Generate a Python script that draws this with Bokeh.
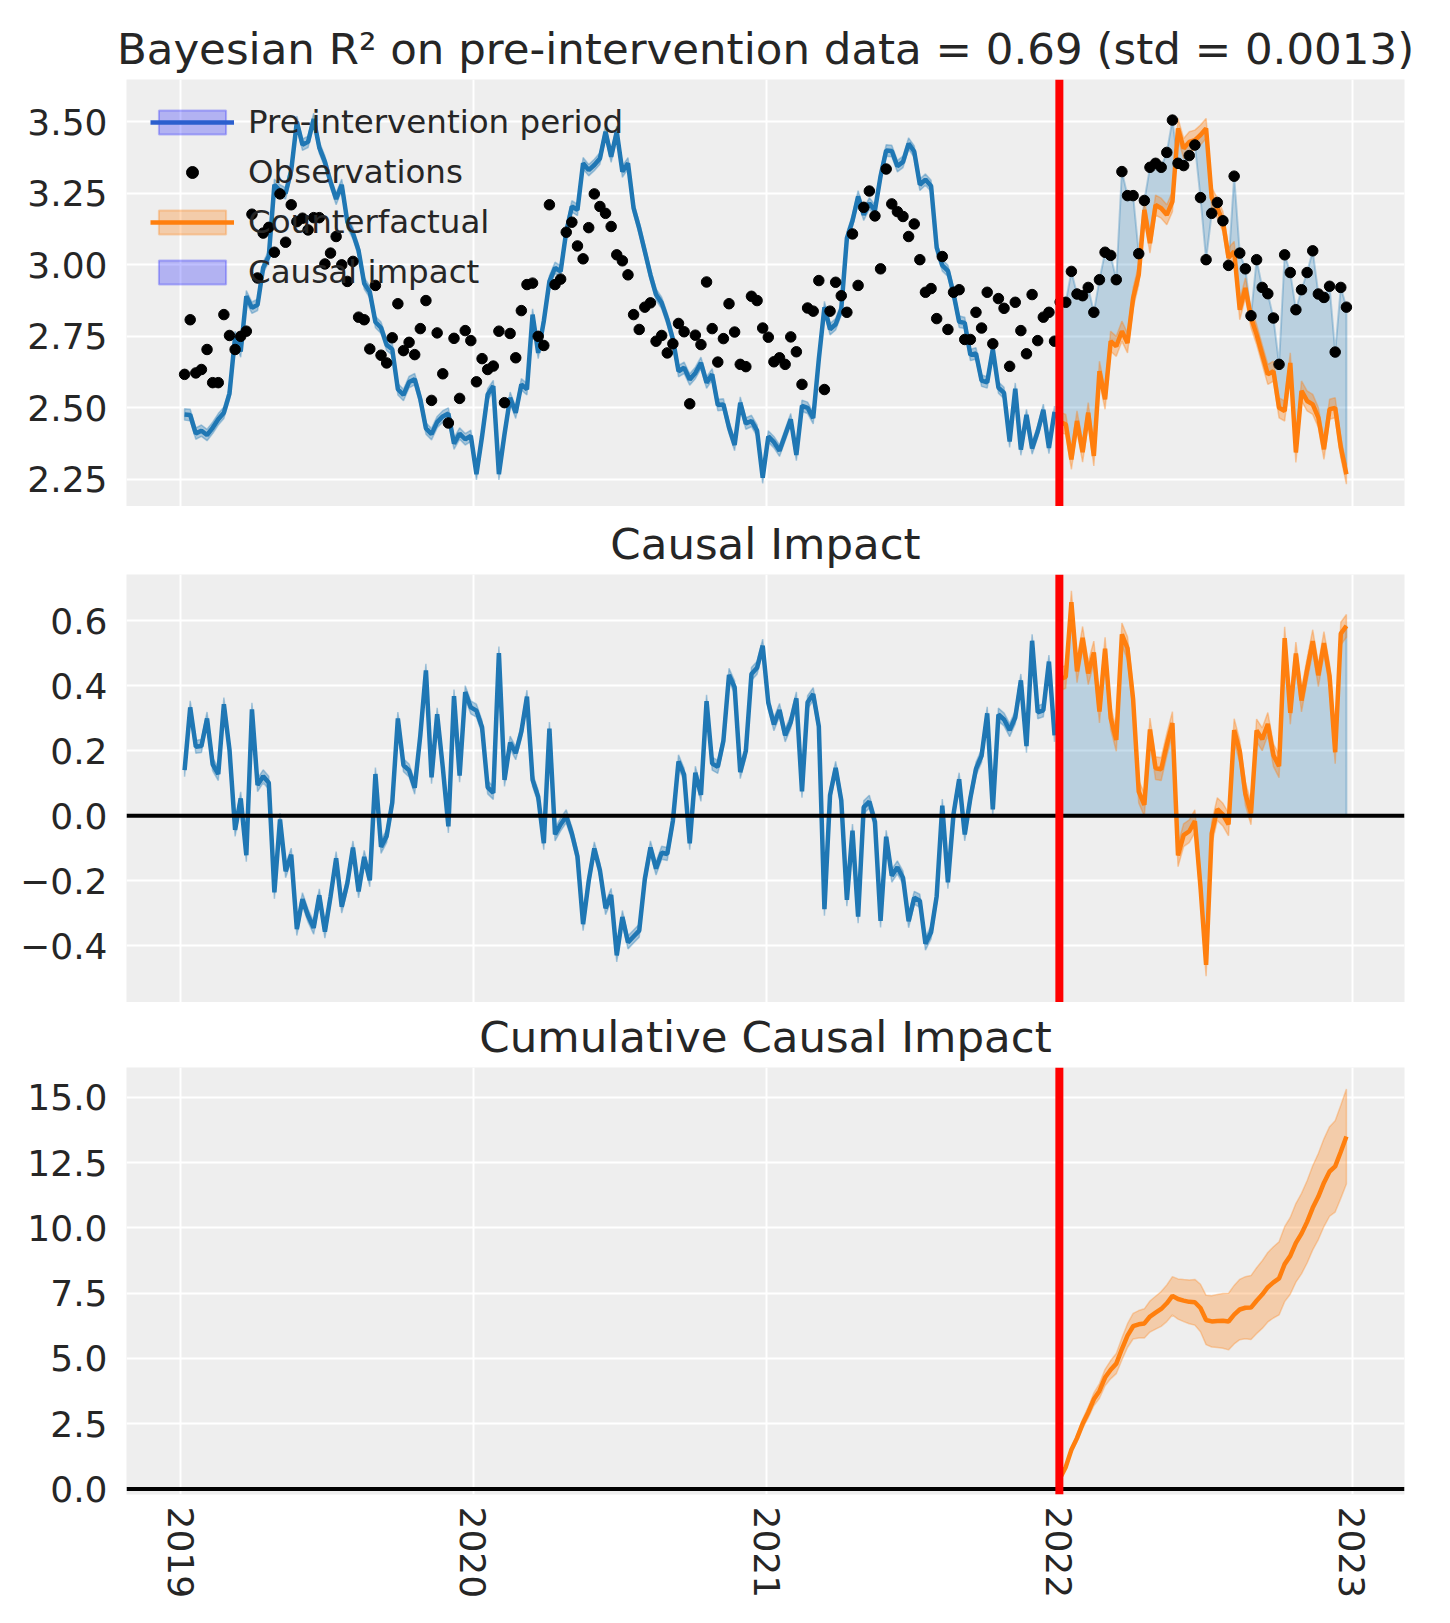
import math
import pandas as pd
from bokeh.plotting import figure
from bokeh.layouts import column
from bokeh.models import (Range1d, FixedTicker, CustomJSTickFormatter, Span,
                          Legend, LegendItem)
from bokeh.embed import file_html
from bokeh.resources import INLINE

# ---------------- data ----------------
START_DATE = "2019-01-06"
N_WEEKS = 208
INTERVENTION = "2022-01-01"

observed = [
    2.617, 2.808, 2.622, 2.634, 2.704, 2.588, 2.588, 2.826, 2.753, 2.704,
    2.750, 2.768, 3.177, 2.954, 3.111, 3.131, 3.044, 3.248, 3.079, 3.210,
    3.151, 3.163, 3.122, 3.165, 3.165, 3.003, 3.041, 3.099, 3.000, 2.942,
    3.012, 2.817, 2.808, 2.706, 2.928, 2.684, 2.657, 2.745, 2.864, 2.700,
    2.729, 2.686, 2.777, 2.875, 2.526, 2.762, 2.619, 2.447, 2.743, 2.533,
    2.770, 2.735, 2.591, 2.672, 2.634, 2.646, 2.768, 2.518, 2.760, 2.675,
    2.840, 2.931, 2.936, 2.750, 2.718, 3.210, 2.931, 2.950, 3.114, 3.149,
    3.066, 3.021, 3.130, 3.248, 3.204, 3.180, 3.134, 3.035, 3.014, 2.965,
    2.826, 2.774, 2.852, 2.867, 2.733, 2.753, 2.692, 2.724, 2.795, 2.766,
    2.514, 2.754, 2.721, 2.940, 2.777, 2.660, 2.742, 2.864, 2.765, 2.652,
    2.644, 2.890, 2.875, 2.779, 2.747, 2.661, 2.675, 2.652, 2.748, 2.696,
    2.582, 2.849, 2.838, 2.945, 2.564, 2.838, 2.939, 2.892, 2.834, 3.108,
    2.928, 3.201, 3.258, 3.171, 2.986, 3.335, 3.213, 3.186, 3.169, 3.099,
    3.143, 3.018, 2.904, 2.917, 2.812, 3.029, 2.774, 2.904, 2.913, 2.739,
    2.739, 2.834, 2.779, 2.904, 2.724, 2.882, 2.848, 2.645, 2.869, 2.770,
    2.689, 2.896, 2.735, 2.817, 2.834, 2.733, 2.870, 2.869, 2.977, 2.898,
    2.892, 2.921, 2.834, 2.948, 3.044, 3.033, 2.948, 3.326, 3.242, 3.242,
    3.039, 3.225, 3.341, 3.355, 3.341, 3.393, 3.506, 3.355, 3.347, 3.382,
    3.419, 3.235, 3.018, 3.180, 3.218, 3.154, 2.998, 3.310, 3.041, 2.986,
    2.822, 3.018, 2.921, 2.899, 2.814, 2.652, 3.035, 2.973, 2.843, 2.913,
    2.973, 3.049, 2.898, 2.886, 2.925, 2.695, 2.921, 2.852,
]

predicted = [
    2.477, 2.475, 2.410, 2.420, 2.405, 2.430, 2.460, 2.483, 2.550, 2.748,
    2.697, 2.890, 2.850, 2.860, 2.990, 3.030, 3.280, 3.260, 3.250, 3.330,
    3.500, 3.420, 3.430, 3.510, 3.410, 3.360, 3.290, 3.230, 3.280, 3.150,
    3.110, 3.050, 2.935, 2.905, 2.800, 2.780, 2.720, 2.705, 2.565, 2.545,
    2.590, 2.600, 2.530, 2.428, 2.408, 2.450, 2.470, 2.480, 2.375, 2.410,
    2.390, 2.402, 2.268, 2.400, 2.547, 2.576, 2.268, 2.408, 2.535, 2.483,
    2.582, 2.565, 2.826, 2.692, 2.803, 2.942, 2.989, 2.977, 3.116, 3.204,
    3.192, 3.355, 3.331, 3.349, 3.372, 3.465, 3.378, 3.465, 3.326, 3.355,
    3.198, 3.128, 3.047, 2.965, 2.896, 2.867, 2.810, 2.740, 2.628, 2.640,
    2.599, 2.622, 2.657, 2.588, 2.617, 2.510, 2.512, 2.431, 2.370, 2.518,
    2.445, 2.454, 2.420, 2.256, 2.400, 2.380, 2.350, 2.405, 2.460, 2.335,
    2.507, 2.500, 2.464, 2.670, 2.852, 2.775, 2.792, 2.845, 3.093, 3.154,
    3.239, 3.175, 3.215, 3.190, 3.310, 3.400, 3.398, 3.345, 3.360, 3.424,
    3.396, 3.280, 3.298, 3.276, 3.060, 2.998, 2.979, 2.899, 2.801, 2.797,
    2.685, 2.690, 2.595, 2.589, 2.705, 2.571, 2.552, 2.382, 2.567, 2.354,
    2.475, 2.358, 2.417, 2.493, 2.360, 2.486, 2.450, 2.442, 2.320, 2.454,
    2.345, 2.483, 2.332, 2.628, 2.530, 2.733, 2.715, 2.768, 2.727, 2.884,
    2.965, 3.192, 3.076, 3.209, 3.198, 3.175, 3.221, 3.477, 3.407, 3.430,
    3.436, 3.454, 3.477, 3.235, 3.198, 3.151, 3.025, 3.047, 2.843, 2.919,
    2.815, 2.756, 2.686, 2.617, 2.628, 2.500, 2.489, 2.657, 2.344, 2.559,
    2.524, 2.512, 2.466, 2.355, 2.495, 2.500, 2.361, 2.268,
]

HDI_HALF_PRE = 0.02    # half width of the posterior band, pre period
HDI_HALF_POST = 0.035  # half width of the posterior band, post period

year_ticks = ["2019-01-01", "2020-01-01", "2021-01-01", "2022-01-01", "2023-01-01"]
ticks_top = [2.25, 2.50, 2.75, 3.00, 3.25, 3.50]
ticks_mid = [-0.4, -0.2, 0.0, 0.2, 0.4, 0.6]
ticks_bot = [0.0, 2.5, 5.0, 7.5, 10.0, 12.5, 15.0]

title_top = "Bayesian R\u00b2 on pre-intervention data = 0.69 (std = 0.0013)"
title_mid = "Causal Impact"
title_bot = "Cumulative Causal Impact"
legend_labels = ["Pre-intervention period", "Observations", "Counterfactual", "Causal impact"]

# ---------------- derived series ----------------
dates = pd.date_range(START_DATE, periods=N_WEEKS, freq="7D")
x_all = list(dates.asi8 / 1e6)
t_int = pd.Timestamp(INTERVENTION).value / 1e6
n_pre = int(sum(1 for x in x_all if x < t_int))

x_pre, x_post = x_all[:n_pre], x_all[n_pre:]
obs_pre, obs_post = observed[:n_pre], observed[n_pre:]
pred_pre, pred_post = predicted[:n_pre], predicted[n_pre:]
imp_pre = [o - p for o, p in zip(obs_pre, pred_pre)]
imp_post = [o - p for o, p in zip(obs_post, pred_post)]
cum, cum_lo, cum_hi = [], [], []
s = slo = shi = 0.0
for v in imp_post:
    s += v
    slo += v - HDI_HALF_POST
    shi += v + HDI_HALF_POST
    cum.append(s); cum_lo.append(slo); cum_hi.append(shi)

# ---------------- style ----------------
C0, C1 = "#1f77b4", "#ff7f0e"
TXT = "#262626"
FONT = "DejaVu Sans"
BG = "#eeeeee"
LW = 4.5
NAN = float("nan")

span_days = (x_all[-1] - x_all[0])
x_range = Range1d(x_all[0] - 0.05 * span_days, x_all[-1] + 0.05 * span_days)
year_ms = [pd.Timestamp(t).value / 1e6 for t in year_ticks]

FRAME_W = 1278
LEFT, RIGHT = 126, 28


def make_fig(title, h_top, h_frame, h_bot, y0, y1, yticks, yfmt):
    p = figure(width=LEFT + FRAME_W + RIGHT, height=h_top + h_frame + h_bot,
               x_range=x_range, y_range=Range1d(y0, y1),
               output_backend="svg", toolbar_location=None,
               min_border_left=LEFT, min_border_right=RIGHT,
               min_border_top=h_top, min_border_bottom=h_bot)
    p.title.text = title
    p.title.text_font = FONT
    p.title.text_font_size = "43.5px"
    p.title.text_font_style = "normal"
    p.title.text_color = TXT
    p.title.align = "center"
    p.title.standoff = 12
    p.background_fill_color = BG
    p.border_fill_color = "white"
    p.outline_line_color = None
    for ax in (p.xaxis, p.yaxis):
        ax.axis_line_color = None
        ax.major_tick_line_color = None
        ax.minor_tick_line_color = None
        ax.major_label_text_font = FONT
        ax.major_label_text_font_size = "36px"
        ax.major_label_text_color = TXT
        ax.major_label_standoff = 13
    p.xaxis.major_label_standoff = 6
    p.xaxis.ticker = FixedTicker(ticks=year_ms)
    p.xaxis.formatter = CustomJSTickFormatter(
        code="return String(new Date(tick).getUTCFullYear());")
    p.yaxis.ticker = FixedTicker(ticks=yticks)
    p.yaxis.formatter = CustomJSTickFormatter(code=yfmt)
    for g in (p.xgrid, p.ygrid):
        g.grid_line_color = "white"
        g.grid_line_width = 2
    return p


def band(p, x, lo, hi, color, alpha):
    p.patch(x=list(x) + list(x)[::-1], y=list(hi) + list(lo)[::-1],
            fill_color=color, fill_alpha=alpha,
            line_color=color, line_alpha=alpha, line_width=1.5)


FMT2 = "return tick.toFixed(2);"
FMT1 = "return tick.toFixed(1).replace('-', '\\u2212');"

# ---------------- top panel ----------------
p1 = make_fig(title_top, 79, 427, 0, 2.155, 3.648, ticks_top, FMT2)
p1.xaxis.visible = False
band(p1, x_pre, [v - HDI_HALF_PRE for v in pred_pre], [v + HDI_HALF_PRE for v in pred_pre], C0, 0.35)
p1.line(x_pre, pred_pre, line_color=C0, line_width=LW)
p1.patch(x=x_post + x_post[::-1], y=obs_post + pred_post[::-1],
         fill_color=C0, fill_alpha=0.25, line_color=C0, line_alpha=0.3, line_width=2)
band(p1, x_post, [v - HDI_HALF_POST for v in pred_post], [v + HDI_HALF_POST for v in pred_post], C1, 0.35)
p1.line(x_post, pred_post, line_color=C1, line_width=LW)
p1.scatter(x_all, observed, size=10.5, fill_color="black", line_color="black")
p1.add_layout(Span(location=t_int, dimension="height", line_color="red", line_width=8))

# legend-only renderers (a single NaN row draws nothing in the plot area)
lg_pre_patch = p1.quad(left=[NAN], right=[NAN], top=[NAN], bottom=[NAN], fill_color="blue",
                       fill_alpha=0.25, line_color="blue", line_alpha=0.25, line_width=2)
lg_pre_line = p1.line(x=[NAN], y=[NAN], line_color="#2b5fce", line_width=LW)
lg_obs = p1.scatter(x=[NAN], y=[NAN], fill_color="black", line_color="black")
lg_cf_patch = p1.quad(left=[NAN], right=[NAN], top=[NAN], bottom=[NAN], fill_color=C1,
                      fill_alpha=0.3, line_color=C1, line_alpha=0.3, line_width=2)
lg_cf_line = p1.line(x=[NAN], y=[NAN], line_color=C1, line_width=LW)
lg_ci_patch = p1.quad(left=[NAN], right=[NAN], top=[NAN], bottom=[NAN], fill_color="blue",
                      fill_alpha=0.25, line_color="blue", line_alpha=0.25, line_width=2)
legend = Legend(items=[
    LegendItem(label=legend_labels[0], renderers=[lg_pre_patch, lg_pre_line]),
    LegendItem(label=legend_labels[1], renderers=[lg_obs]),
    LegendItem(label=legend_labels[2], renderers=[lg_cf_patch, lg_cf_line]),
    LegendItem(label=legend_labels[3], renderers=[lg_ci_patch]),
], location="top_left", margin=0, padding=24, spacing=12,
    glyph_width=84, glyph_height=30, label_standoff=14, label_height=38,
    label_text_font=FONT, label_text_font_size="32.5px", label_text_color=TXT,
    background_fill_alpha=0, border_line_alpha=0)
p1.add_layout(legend)

# ---------------- middle panel ----------------
p2 = make_fig(title_mid, 68, 428, 0, -0.575, 0.742, ticks_mid, FMT1)
p2.xaxis.visible = False
band(p2, x_pre, [v - HDI_HALF_PRE for v in imp_pre], [v + HDI_HALF_PRE for v in imp_pre], C0, 0.35)
p2.line(x_pre, imp_pre, line_color=C0, line_width=LW)
p2.patch(x=x_post + x_post[::-1], y=imp_post + [0.0] * len(imp_post),
         fill_color=C0, fill_alpha=0.25, line_color=C0, line_alpha=0.3, line_width=2)
band(p2, x_post, [v - HDI_HALF_POST for v in imp_post], [v + HDI_HALF_POST for v in imp_post], C1, 0.35)
p2.line(x_post, imp_post, line_color=C1, line_width=LW)
p2.add_layout(Span(location=0, dimension="width", line_color="black", line_width=4))
p2.add_layout(Span(location=t_int, dimension="height", line_color="red", line_width=8))

# ---------------- bottom panel ----------------
p3 = make_fig(title_bot, 65, 427, 115, -0.21, 16.14, ticks_bot, FMT1)
p3.xaxis.major_label_orientation = -math.pi / 2
band(p3, x_post, cum_lo, cum_hi, C1, 0.3)
p3.line(x_post, cum, line_color=C1, line_width=LW)
p3.add_layout(Span(location=0, dimension="width", line_color="black", line_width=4))
p3.add_layout(Span(location=t_int, dimension="height", line_color="red", line_width=8))

layout = column(p1, p2, p3, spacing=0)
open("out.html", "w").write(file_html(layout, INLINE))
